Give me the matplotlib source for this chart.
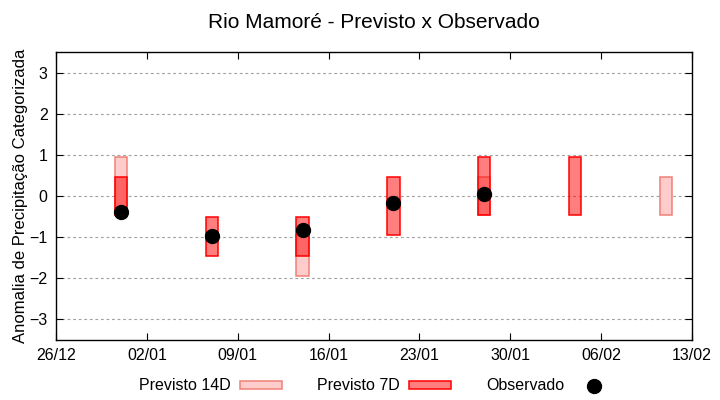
import numpy as np
import matplotlib
matplotlib.use('Agg')
import matplotlib.pyplot as plt
import matplotlib.dates as mdates
from matplotlib.patches import Patch
from matplotlib.lines import Line2D

plt.rcParams['font.family'] = ['Liberation Sans', 'DejaVu Sans']

# Weekly forecast dates
dates = np.array(['2020-12-31', '2021-01-07', '2021-01-14', '2021-01-21',
                  '2021-01-28', '2021-02-04', '2021-02-11'], dtype='datetime64[D]')

# Forecast ranges (low / high) for 14-day and 7-day leads
p14_low = np.array([-0.45, np.nan, -1.95, np.nan, -0.45, np.nan, -0.45])
p14_high = np.array([0.95, np.nan, -0.95, np.nan, 0.45, np.nan, 0.45])
p7_low = np.array([-0.45, -1.45, -1.45, -0.95, -0.45, -0.45, np.nan])
p7_high = np.array([0.45, -0.50, -0.50, 0.45, 0.95, 0.95, np.nan])

# Observed anomaly
observed = np.array([-0.38, -0.98, -0.82, -0.17, 0.05, np.nan, np.nan])

yticks = [-3, -2, -1, 0, 1, 2, 3]
xticks = np.array(['2020-12-26', '2021-01-02', '2021-01-09', '2021-01-16',
                   '2021-01-23', '2021-01-30', '2021-02-06', '2021-02-13'],
                  dtype='datetime64[D]')

fig = plt.figure(figsize=(7.2, 4.0), dpi=100)
ax = fig.add_axes([56 / 720, 60 / 400, 636 / 720, 288 / 400])

x = dates.astype('datetime64[ms]').astype(object)

m14 = ~np.isnan(p14_low)
ax.bar(x[m14], (p14_high - p14_low)[m14], bottom=p14_low[m14], width=0.95,
       facecolor='#ffcccc', edgecolor='#f08078', linewidth=1.1, zorder=2)

m7 = ~np.isnan(p7_low)
ax.bar(x[m7], (p7_high - p7_low)[m7], bottom=p7_low[m7], width=0.95,
       facecolor=(1, 0, 0, 0.5), edgecolor='#ff0000', linewidth=1.1, zorder=3)

mo = ~np.isnan(observed)
ax.plot(x[mo], observed[mo], 'o', color='black', markersize=10, zorder=4)

ax.set_ylim(-3.5, 3.5)
ax.set_yticks(yticks)
ax.set_xlim(xticks[0].astype(object), xticks[-1].astype(object))
ax.set_xticks(xticks.astype('datetime64[ms]').astype(object))
ax.xaxis.set_major_formatter(mdates.DateFormatter('%d/%m'))

ax.yaxis.grid(True, color='#a0a0a0', linestyle=(0, (2.5, 2.5)), linewidth=0.8)
ax.set_axisbelow(True)
ax.tick_params(direction='in', top=True, right=True, length=5, width=0.8,
               labelsize=11.5, colors='black', pad=6)
for s in ax.spines.values():
    s.set_linewidth(1.0)

ax.set_ylabel('Anomalia de Precipitação Categorizada', fontsize=12, labelpad=1)
ax.set_title('Rio Mamoré - Previsto x Observado', fontsize=15, pad=17)

handles = [
    Patch(facecolor='#ffcccc', edgecolor='#f08078', linewidth=1.1),
    Patch(facecolor=(1, 0, 0, 0.5), edgecolor='#ff0000', linewidth=1.1),
    Line2D([], [], marker='o', color='black', linestyle='none', markersize=10),
]
labels = ['Previsto 14D', 'Previsto 7D', 'Observado']
fig.legend(handles, labels, loc='center', bbox_to_anchor=(377 / 720, 1 - 386 / 400),
           ncol=3, frameon=False, markerfirst=False, fontsize=11.5,
           handlelength=2.6, handleheight=0.4, handletextpad=0.6,
           columnspacing=2.2)

plt.savefig('out.png', dpi=100)
